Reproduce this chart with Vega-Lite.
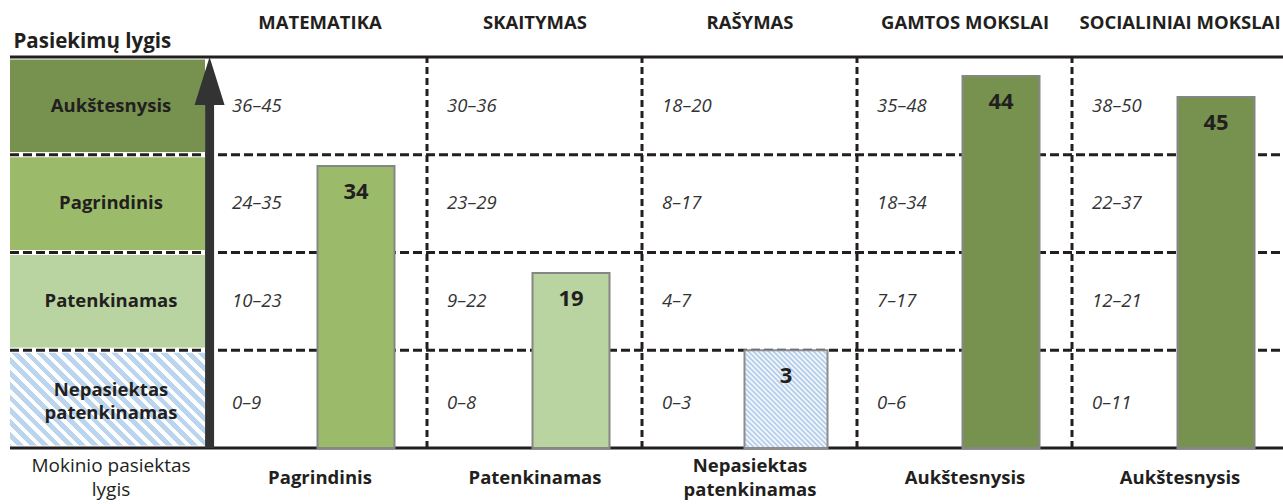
{
  "$schema": "https://vega.github.io/schema/vega-lite/v6.json",
  "width": 1283,
  "height": 504,
  "autosize": {"type": "none"},
  "padding": 0,
  "background": "white",
  "config": {"view": {"stroke": null}},
  "datasets": {
    "levels": [
      {"level": "Aukštesnysis", "label": "Aukštesnysis", "lo": 3, "hi": 4},
      {"level": "Pagrindinis", "label": "Pagrindinis", "lo": 2, "hi": 3},
      {"level": "Patenkinamas", "label": "Patenkinamas", "lo": 1, "hi": 2},
      {"level": "Nepasiektas patenkinamas", "label": "Nepasiektas\npatenkinamas", "lo": 0, "hi": 1}
    ],
    "subjects": [
      {"col": 0, "subject": "MATEMATIKA", "score": 34, "achieved": "Pagrindinis", "achievedLabel": "Pagrindinis", "barTop": 2.885},
      {"col": 1, "subject": "SKAITYMAS", "score": 19, "achieved": "Patenkinamas", "achievedLabel": "Patenkinamas", "barTop": 1.79},
      {"col": 2, "subject": "RAŠYMAS", "score": 3, "achieved": "Nepasiektas patenkinamas", "achievedLabel": "Nepasiektas\npatenkinamas", "barTop": 1.0},
      {"col": 3, "subject": "GAMTOS MOKSLAI", "score": 44, "achieved": "Aukštesnysis", "achievedLabel": "Aukštesnysis", "barTop": 3.806},
      {"col": 4, "subject": "SOCIALINIAI MOKSLAI", "score": 45, "achieved": "Aukštesnysis", "achievedLabel": "Aukštesnysis", "barTop": 3.591}
    ],
    "ranges": [
      {"col": 0, "lo": 3, "range": "36–45"}, {"col": 0, "lo": 2, "range": "24–35"}, {"col": 0, "lo": 1, "range": "10–23"}, {"col": 0, "lo": 0, "range": "0–9"},
      {"col": 1, "lo": 3, "range": "30–36"}, {"col": 1, "lo": 2, "range": "23–29"}, {"col": 1, "lo": 1, "range": "9–22"}, {"col": 1, "lo": 0, "range": "0–8"},
      {"col": 2, "lo": 3, "range": "18–20"}, {"col": 2, "lo": 2, "range": "8–17"}, {"col": 2, "lo": 1, "range": "4–7"}, {"col": 2, "lo": 0, "range": "0–3"},
      {"col": 3, "lo": 3, "range": "35–48"}, {"col": 3, "lo": 2, "range": "18–34"}, {"col": 3, "lo": 1, "range": "7–17"}, {"col": 3, "lo": 0, "range": "0–6"},
      {"col": 4, "lo": 3, "range": "38–50"}, {"col": 4, "lo": 2, "range": "22–37"}, {"col": 4, "lo": 1, "range": "12–21"}, {"col": 4, "lo": 0, "range": "0–11"}
    ]
  },
  "layer": [
    {
      "data": {"name": "levels"},
      "transform": [{"filter": "datum.lo > 0"}],
      "mark": {"type": "rect", "stroke": "white", "strokeWidth": 5},
      "encoding": {
        "x": {"datum": -1.6209, "type": "quantitative", "scale": {"domain": [-1.6558, 4.3116], "nice": false, "zero": false}, "axis": null},
        "x2": {"datum": -0.6907},
        "y": {"field": "lo", "type": "quantitative", "scale": {"domain": [-0.5729, 4.5831], "nice": false, "zero": false}, "axis": null},
        "y2": {"field": "hi"},
        "color": {"field": "level", "type": "nominal", "scale": {"domain": ["Aukštesnysis", "Pagrindinis", "Patenkinamas"], "range": ["#77924F", "#9BBB6A", "#B9D4A0"]}, "legend": null}
      }
    },
    {
      "data": {"name": "levels"},
      "transform": [{"filter": "datum.lo == 0"}],
      "mark": {
        "type": "rect", "stroke": "white", "strokeWidth": 5,
        "fill": {
          "gradient": "linear", "x1": 0, "y1": 1, "x2": 1.2017, "y2": 0.4126,
          "stops": [
            {"offset": 0, "color": "#BCD5EE"}, {"offset": 0.0229, "color": "#BCD5EE"}, {"offset": 0.0229, "color": "#FFFFFF"}, {"offset": 0.0417, "color": "#FFFFFF"},
            {"offset": 0.0417, "color": "#BCD5EE"}, {"offset": 0.0646, "color": "#BCD5EE"}, {"offset": 0.0646, "color": "#FFFFFF"}, {"offset": 0.0833, "color": "#FFFFFF"},
            {"offset": 0.0833, "color": "#BCD5EE"}, {"offset": 0.1063, "color": "#BCD5EE"}, {"offset": 0.1063, "color": "#FFFFFF"}, {"offset": 0.125, "color": "#FFFFFF"},
            {"offset": 0.125, "color": "#BCD5EE"}, {"offset": 0.1479, "color": "#BCD5EE"}, {"offset": 0.1479, "color": "#FFFFFF"}, {"offset": 0.1667, "color": "#FFFFFF"},
            {"offset": 0.1667, "color": "#BCD5EE"}, {"offset": 0.1896, "color": "#BCD5EE"}, {"offset": 0.1896, "color": "#FFFFFF"}, {"offset": 0.2083, "color": "#FFFFFF"},
            {"offset": 0.2083, "color": "#BCD5EE"}, {"offset": 0.2313, "color": "#BCD5EE"}, {"offset": 0.2313, "color": "#FFFFFF"}, {"offset": 0.25, "color": "#FFFFFF"},
            {"offset": 0.25, "color": "#BCD5EE"}, {"offset": 0.2729, "color": "#BCD5EE"}, {"offset": 0.2729, "color": "#FFFFFF"}, {"offset": 0.2917, "color": "#FFFFFF"},
            {"offset": 0.2917, "color": "#BCD5EE"}, {"offset": 0.3146, "color": "#BCD5EE"}, {"offset": 0.3146, "color": "#FFFFFF"}, {"offset": 0.3333, "color": "#FFFFFF"},
            {"offset": 0.3333, "color": "#BCD5EE"}, {"offset": 0.3563, "color": "#BCD5EE"}, {"offset": 0.3563, "color": "#FFFFFF"}, {"offset": 0.375, "color": "#FFFFFF"},
            {"offset": 0.375, "color": "#BCD5EE"}, {"offset": 0.3979, "color": "#BCD5EE"}, {"offset": 0.3979, "color": "#FFFFFF"}, {"offset": 0.4167, "color": "#FFFFFF"},
            {"offset": 0.4167, "color": "#BCD5EE"}, {"offset": 0.4396, "color": "#BCD5EE"}, {"offset": 0.4396, "color": "#FFFFFF"}, {"offset": 0.4583, "color": "#FFFFFF"},
            {"offset": 0.4583, "color": "#BCD5EE"}, {"offset": 0.4813, "color": "#BCD5EE"}, {"offset": 0.4813, "color": "#FFFFFF"}, {"offset": 0.5, "color": "#FFFFFF"},
            {"offset": 0.5, "color": "#BCD5EE"}, {"offset": 0.5229, "color": "#BCD5EE"}, {"offset": 0.5229, "color": "#FFFFFF"}, {"offset": 0.5417, "color": "#FFFFFF"},
            {"offset": 0.5417, "color": "#BCD5EE"}, {"offset": 0.5646, "color": "#BCD5EE"}, {"offset": 0.5646, "color": "#FFFFFF"}, {"offset": 0.5833, "color": "#FFFFFF"},
            {"offset": 0.5833, "color": "#BCD5EE"}, {"offset": 0.6063, "color": "#BCD5EE"}, {"offset": 0.6063, "color": "#FFFFFF"}, {"offset": 0.625, "color": "#FFFFFF"},
            {"offset": 0.625, "color": "#BCD5EE"}, {"offset": 0.6479, "color": "#BCD5EE"}, {"offset": 0.6479, "color": "#FFFFFF"}, {"offset": 0.6667, "color": "#FFFFFF"},
            {"offset": 0.6667, "color": "#BCD5EE"}, {"offset": 0.6896, "color": "#BCD5EE"}, {"offset": 0.6896, "color": "#FFFFFF"}, {"offset": 0.7083, "color": "#FFFFFF"},
            {"offset": 0.7083, "color": "#BCD5EE"}, {"offset": 0.7313, "color": "#BCD5EE"}, {"offset": 0.7313, "color": "#FFFFFF"}, {"offset": 0.75, "color": "#FFFFFF"},
            {"offset": 0.75, "color": "#BCD5EE"}, {"offset": 0.7729, "color": "#BCD5EE"}, {"offset": 0.7729, "color": "#FFFFFF"}, {"offset": 0.7917, "color": "#FFFFFF"},
            {"offset": 0.7917, "color": "#BCD5EE"}, {"offset": 0.8146, "color": "#BCD5EE"}, {"offset": 0.8146, "color": "#FFFFFF"}, {"offset": 0.8333, "color": "#FFFFFF"},
            {"offset": 0.8333, "color": "#BCD5EE"}, {"offset": 0.8563, "color": "#BCD5EE"}, {"offset": 0.8563, "color": "#FFFFFF"}, {"offset": 0.875, "color": "#FFFFFF"},
            {"offset": 0.875, "color": "#BCD5EE"}, {"offset": 0.8979, "color": "#BCD5EE"}, {"offset": 0.8979, "color": "#FFFFFF"}, {"offset": 0.9167, "color": "#FFFFFF"},
            {"offset": 0.9167, "color": "#BCD5EE"}, {"offset": 0.9396, "color": "#BCD5EE"}, {"offset": 0.9396, "color": "#FFFFFF"}, {"offset": 0.9583, "color": "#FFFFFF"},
            {"offset": 0.9583, "color": "#BCD5EE"}, {"offset": 0.9813, "color": "#BCD5EE"}, {"offset": 0.9813, "color": "#FFFFFF"}, {"offset": 1, "color": "#FFFFFF"}
          ]
        }
      },
      "encoding": {
        "x": {"datum": -1.6209, "type": "quantitative", "scale": {"domain": [-1.6558, 4.3116], "nice": false, "zero": false}, "axis": null},
        "x2": {"datum": -0.6907},
        "y": {"field": "lo", "type": "quantitative", "scale": {"domain": [-0.5729, 4.5831], "nice": false, "zero": false}, "axis": null},
        "y2": {"field": "hi"}
      }
    },
    {
      "data": {"name": "levels"},
      "transform": [{"filter": "datum.lo > 0"}],
      "mark": {"type": "rule", "color": "#231F20", "strokeWidth": 3, "strokeDash": [9, 4]},
      "encoding": {
        "x": {"datum": -1.6093, "type": "quantitative", "scale": {"domain": [-1.6558, 4.3116], "nice": false, "zero": false}, "axis": null},
        "x2": {"datum": 4.3116},
        "y": {"field": "lo", "type": "quantitative", "scale": {"domain": [-0.5729, 4.5831], "nice": false, "zero": false}, "axis": null}
      }
    },
    {
      "data": {"name": "subjects"},
      "transform": [{"filter": "datum.col > 0"}],
      "mark": {"type": "rule", "color": "#231F20", "strokeWidth": 3, "strokeDash": [7, 4], "xOffset": -144},
      "encoding": {
        "x": {"field": "col", "type": "quantitative", "scale": {"domain": [-1.6558, 4.3116], "nice": false, "zero": false}, "axis": null},
        "y": {"datum": 0, "type": "quantitative", "scale": {"domain": [-0.5729, 4.5831], "nice": false, "zero": false}, "axis": null},
        "y2": {"datum": 4}
      }
    },
    {
      "data": {"name": "levels"},
      "transform": [{"filter": "datum.lo == 3"}],
      "mark": {"type": "rule", "color": "#231F20", "strokeWidth": 3},
      "encoding": {
        "x": {"datum": -1.6093, "type": "quantitative", "scale": {"domain": [-1.6558, 4.3116], "nice": false, "zero": false}, "axis": null},
        "x2": {"datum": 4.3116},
        "y": {"field": "hi", "type": "quantitative", "scale": {"domain": [-0.5729, 4.5831], "nice": false, "zero": false}, "axis": null}
      }
    },
    {
      "data": {"name": "levels"},
      "transform": [{"filter": "datum.lo == 0"}],
      "mark": {"type": "rule", "color": "#231F20", "strokeWidth": 3},
      "encoding": {
        "x": {"datum": -1.6093, "type": "quantitative", "scale": {"domain": [-1.6558, 4.3116], "nice": false, "zero": false}, "axis": null},
        "x2": {"datum": 4.3116},
        "y": {"field": "lo", "type": "quantitative", "scale": {"domain": [-0.5729, 4.5831], "nice": false, "zero": false}, "axis": null}
      }
    },
    {
      "data": {"name": "subjects"},
      "transform": [{"filter": "datum.col != 2"}],
      "mark": {"type": "rect", "stroke": "#868686", "strokeWidth": 2, "xOffset": -38.5, "x2Offset": 38.5},
      "encoding": {
        "x": {"field": "col", "type": "quantitative", "scale": {"domain": [-1.6558, 4.3116], "nice": false, "zero": false}, "axis": null},
        "x2": {"field": "col"},
        "y": {"field": "barTop", "type": "quantitative", "scale": {"domain": [-0.5729, 4.5831], "nice": false, "zero": false}, "axis": null},
        "y2": {"datum": 0},
        "color": {"field": "achieved", "type": "nominal", "scale": {"domain": ["Aukštesnysis", "Pagrindinis", "Patenkinamas"], "range": ["#77924F", "#9BBB6A", "#B9D4A0"]}, "legend": null}
      }
    },
    {
      "data": {"name": "subjects"},
      "transform": [{"filter": "datum.col == 2"}],
      "mark": {
        "type": "rect", "stroke": "#8C8C8C", "strokeWidth": 2, "xOffset": -41.5, "x2Offset": 41.5,
        "fill": {
          "gradient": "linear", "x1": 0, "y1": 1, "x2": 0.9123, "y2": -0.0744,
          "stops": [
            {"offset": 0, "color": "#A9C6E8"}, {"offset": 0.01389, "color": "#FFFFFF"}, {"offset": 0.02778, "color": "#A9C6E8"}, {"offset": 0.04167, "color": "#FFFFFF"},
            {"offset": 0.05556, "color": "#A9C6E8"}, {"offset": 0.06944, "color": "#FFFFFF"}, {"offset": 0.08333, "color": "#A9C6E8"}, {"offset": 0.09722, "color": "#FFFFFF"},
            {"offset": 0.11111, "color": "#A9C6E8"}, {"offset": 0.125, "color": "#FFFFFF"}, {"offset": 0.13889, "color": "#A9C6E8"}, {"offset": 0.15278, "color": "#FFFFFF"},
            {"offset": 0.16667, "color": "#A9C6E8"}, {"offset": 0.18056, "color": "#FFFFFF"}, {"offset": 0.19444, "color": "#A9C6E8"}, {"offset": 0.20833, "color": "#FFFFFF"},
            {"offset": 0.22222, "color": "#A9C6E8"}, {"offset": 0.23611, "color": "#FFFFFF"}, {"offset": 0.25, "color": "#A9C6E8"}, {"offset": 0.26389, "color": "#FFFFFF"},
            {"offset": 0.27778, "color": "#A9C6E8"}, {"offset": 0.29167, "color": "#FFFFFF"}, {"offset": 0.30556, "color": "#A9C6E8"}, {"offset": 0.31944, "color": "#FFFFFF"},
            {"offset": 0.33333, "color": "#A9C6E8"}, {"offset": 0.34722, "color": "#FFFFFF"}, {"offset": 0.36111, "color": "#A9C6E8"}, {"offset": 0.375, "color": "#FFFFFF"},
            {"offset": 0.38889, "color": "#A9C6E8"}, {"offset": 0.40278, "color": "#FFFFFF"}, {"offset": 0.41667, "color": "#A9C6E8"}, {"offset": 0.43056, "color": "#FFFFFF"},
            {"offset": 0.44444, "color": "#A9C6E8"}, {"offset": 0.45833, "color": "#FFFFFF"}, {"offset": 0.47222, "color": "#A9C6E8"}, {"offset": 0.48611, "color": "#FFFFFF"},
            {"offset": 0.5, "color": "#A9C6E8"}, {"offset": 0.51389, "color": "#FFFFFF"}, {"offset": 0.52778, "color": "#A9C6E8"}, {"offset": 0.54167, "color": "#FFFFFF"},
            {"offset": 0.55556, "color": "#A9C6E8"}, {"offset": 0.56944, "color": "#FFFFFF"}, {"offset": 0.58333, "color": "#A9C6E8"}, {"offset": 0.59722, "color": "#FFFFFF"},
            {"offset": 0.61111, "color": "#A9C6E8"}, {"offset": 0.625, "color": "#FFFFFF"}, {"offset": 0.63889, "color": "#A9C6E8"}, {"offset": 0.65278, "color": "#FFFFFF"},
            {"offset": 0.66667, "color": "#A9C6E8"}, {"offset": 0.68056, "color": "#FFFFFF"}, {"offset": 0.69444, "color": "#A9C6E8"}, {"offset": 0.70833, "color": "#FFFFFF"},
            {"offset": 0.72222, "color": "#A9C6E8"}, {"offset": 0.73611, "color": "#FFFFFF"}, {"offset": 0.75, "color": "#A9C6E8"}, {"offset": 0.76389, "color": "#FFFFFF"},
            {"offset": 0.77778, "color": "#A9C6E8"}, {"offset": 0.79167, "color": "#FFFFFF"}, {"offset": 0.80556, "color": "#A9C6E8"}, {"offset": 0.81944, "color": "#FFFFFF"},
            {"offset": 0.83333, "color": "#A9C6E8"}, {"offset": 0.84722, "color": "#FFFFFF"}, {"offset": 0.86111, "color": "#A9C6E8"}, {"offset": 0.875, "color": "#FFFFFF"},
            {"offset": 0.88889, "color": "#A9C6E8"}, {"offset": 0.90278, "color": "#FFFFFF"}, {"offset": 0.91667, "color": "#A9C6E8"}, {"offset": 0.93056, "color": "#FFFFFF"},
            {"offset": 0.94444, "color": "#A9C6E8"}, {"offset": 0.95833, "color": "#FFFFFF"}, {"offset": 0.97222, "color": "#A9C6E8"}, {"offset": 0.98611, "color": "#FFFFFF"},
            {"offset": 1, "color": "#A9C6E8"}
          ]
        }
      },
      "encoding": {
        "x": {"field": "col", "type": "quantitative", "scale": {"domain": [-1.6558, 4.3116], "nice": false, "zero": false}, "axis": null},
        "x2": {"field": "col"},
        "y": {"field": "barTop", "type": "quantitative", "scale": {"domain": [-0.5729, 4.5831], "nice": false, "zero": false}, "axis": null},
        "y2": {"datum": 0}
      }
    },
    {
      "data": {"name": "subjects"},
      "mark": {"type": "text", "font": "Open Sans", "fontWeight": "bold", "fontSize": 22, "color": "#231F20", "baseline": "middle", "align": "center", "dy": 26},
      "encoding": {
        "x": {"field": "col", "type": "quantitative", "scale": {"domain": [-1.6558, 4.3116], "nice": false, "zero": false}, "axis": null},
        "y": {"field": "barTop", "type": "quantitative", "scale": {"domain": [-0.5729, 4.5831], "nice": false, "zero": false}, "axis": null},
        "text": {"field": "score", "type": "quantitative"}
      }
    },
    {
      "data": {"name": "levels"},
      "transform": [{"filter": "datum.lo == 0"}],
      "mark": {"type": "rule", "color": "#333333", "strokeWidth": 9},
      "encoding": {
        "x": {"datum": -0.681, "type": "quantitative", "scale": {"domain": [-1.6558, 4.3116], "nice": false, "zero": false}, "axis": null},
        "y": {"datum": 0, "type": "quantitative", "scale": {"domain": [-0.5729, 4.5831], "nice": false, "zero": false}, "axis": null},
        "y2": {"datum": 3.56}
      }
    },
    {
      "data": {"name": "levels"},
      "transform": [{"filter": "datum.lo == 0"}],
      "mark": {"type": "point", "shape": "M0,-1L0.625,1L-0.625,1Z", "size": 2304, "filled": true, "color": "#333333", "opacity": 1, "strokeWidth": 0},
      "encoding": {
        "x": {"datum": -0.681, "type": "quantitative", "scale": {"domain": [-1.6558, 4.3116], "nice": false, "zero": false}, "axis": null},
        "y": {"datum": 3.754, "type": "quantitative", "scale": {"domain": [-0.5729, 4.5831], "nice": false, "zero": false}, "axis": null}
      }
    },
    {
      "data": {"name": "levels"},
      "transform": [{"filter": "datum.lo > 0"}],
      "mark": {"type": "text", "font": "Open Sans", "fontWeight": "bold", "fontSize": 18.5, "color": "#231F20", "baseline": "middle", "align": "center", "dy": -49},
      "encoding": {
        "x": {"datum": -1.1395, "type": "quantitative", "scale": {"domain": [-1.6558, 4.3116], "nice": false, "zero": false}, "axis": null},
        "y": {"field": "lo", "type": "quantitative", "scale": {"domain": [-0.5729, 4.5831], "nice": false, "zero": false}, "axis": null},
        "text": {"field": "label", "type": "nominal"}
      }
    },
    {
      "data": {"name": "levels"},
      "transform": [{"filter": "datum.lo == 0"}],
      "mark": {"type": "text", "font": "Open Sans", "fontWeight": "bold", "fontSize": 18.5, "color": "#231F20", "baseline": "middle", "align": "center", "dy": -58, "lineBreak": "\n", "lineHeight": 23.5},
      "encoding": {
        "x": {"datum": -1.1395, "type": "quantitative", "scale": {"domain": [-1.6558, 4.3116], "nice": false, "zero": false}, "axis": null},
        "y": {"field": "lo", "type": "quantitative", "scale": {"domain": [-0.5729, 4.5831], "nice": false, "zero": false}, "axis": null},
        "text": {"field": "label", "type": "nominal"}
      }
    },
    {
      "data": {"name": "ranges"},
      "transform": [{"filter": "datum.lo > 0"}],
      "mark": {"type": "text", "font": "Open Sans", "fontStyle": "italic", "fontSize": 18.5, "color": "#333333", "baseline": "middle", "align": "left", "dx": -124, "dy": -49},
      "encoding": {
        "x": {"field": "col", "type": "quantitative", "scale": {"domain": [-1.6558, 4.3116], "nice": false, "zero": false}, "axis": null},
        "y": {"field": "lo", "type": "quantitative", "scale": {"domain": [-0.5729, 4.5831], "nice": false, "zero": false}, "axis": null},
        "text": {"field": "range", "type": "nominal"}
      }
    },
    {
      "data": {"name": "ranges"},
      "transform": [{"filter": "datum.lo == 0"}],
      "mark": {"type": "text", "font": "Open Sans", "fontStyle": "italic", "fontSize": 18.5, "color": "#333333", "baseline": "middle", "align": "left", "dx": -124, "dy": -45},
      "encoding": {
        "x": {"field": "col", "type": "quantitative", "scale": {"domain": [-1.6558, 4.3116], "nice": false, "zero": false}, "axis": null},
        "y": {"field": "lo", "type": "quantitative", "scale": {"domain": [-0.5729, 4.5831], "nice": false, "zero": false}, "axis": null},
        "text": {"field": "range", "type": "nominal"}
      }
    },
    {
      "data": {"name": "subjects"},
      "mark": {"type": "text", "font": "Open Sans", "fontWeight": "bold", "fontSize": 18.5, "color": "#231F20", "baseline": "alphabetic", "align": "center", "dx": -36},
      "encoding": {
        "x": {"field": "col", "type": "quantitative", "scale": {"domain": [-1.6558, 4.3116], "nice": false, "zero": false}, "axis": null},
        "y": {"datum": 4.286, "type": "quantitative", "scale": {"domain": [-0.5729, 4.5831], "nice": false, "zero": false}, "axis": null},
        "text": {"field": "subject", "type": "nominal"}
      }
    },
    {
      "data": {"name": "subjects"},
      "transform": [{"filter": "datum.col != 2"}],
      "mark": {"type": "text", "font": "Open Sans", "fontWeight": "bold", "fontSize": 18.5, "color": "#231F20", "baseline": "middle", "align": "center", "dx": -36},
      "encoding": {
        "x": {"field": "col", "type": "quantitative", "scale": {"domain": [-1.6558, 4.3116], "nice": false, "zero": false}, "axis": null},
        "y": {"datum": -0.302, "type": "quantitative", "scale": {"domain": [-0.5729, 4.5831], "nice": false, "zero": false}, "axis": null},
        "text": {"field": "achievedLabel", "type": "nominal"}
      }
    },
    {
      "data": {"name": "subjects"},
      "transform": [{"filter": "datum.col == 2"}],
      "mark": {"type": "text", "font": "Open Sans", "fontWeight": "bold", "fontSize": 18.5, "color": "#231F20", "baseline": "middle", "align": "center", "dx": -36, "dy": -12, "lineBreak": "\n", "lineHeight": 24},
      "encoding": {
        "x": {"field": "col", "type": "quantitative", "scale": {"domain": [-1.6558, 4.3116], "nice": false, "zero": false}, "axis": null},
        "y": {"datum": -0.302, "type": "quantitative", "scale": {"domain": [-0.5729, 4.5831], "nice": false, "zero": false}, "axis": null},
        "text": {"field": "achievedLabel", "type": "nominal"}
      }
    },
    {
      "data": {"name": "levels"},
      "transform": [{"filter": "datum.lo == 0"}],
      "mark": {"type": "text", "font": "Open Sans", "fontWeight": "bold", "fontSize": 20.5, "color": "#231F20", "baseline": "alphabetic", "align": "left"},
      "encoding": {
        "x": {"datum": -1.593, "type": "quantitative", "scale": {"domain": [-1.6558, 4.3116], "nice": false, "zero": false}, "axis": null},
        "y": {"datum": 4.095, "type": "quantitative", "scale": {"domain": [-0.5729, 4.5831], "nice": false, "zero": false}, "axis": null},
        "text": {"value": "Pasiekimų lygis"}
      }
    },
    {
      "data": {"name": "levels"},
      "transform": [{"filter": "datum.lo == 0"}],
      "mark": {"type": "text", "font": "Open Sans", "fontSize": 19, "color": "#231F20", "baseline": "middle", "align": "center", "dy": -12, "lineBreak": "\n", "lineHeight": 24},
      "encoding": {
        "x": {"datum": -1.1395, "type": "quantitative", "scale": {"domain": [-1.6558, 4.3116], "nice": false, "zero": false}, "axis": null},
        "y": {"datum": -0.307, "type": "quantitative", "scale": {"domain": [-0.5729, 4.5831], "nice": false, "zero": false}, "axis": null},
        "text": {"value": "Mokinio pasiektas\nlygis"}
      }
    }
  ]
}
